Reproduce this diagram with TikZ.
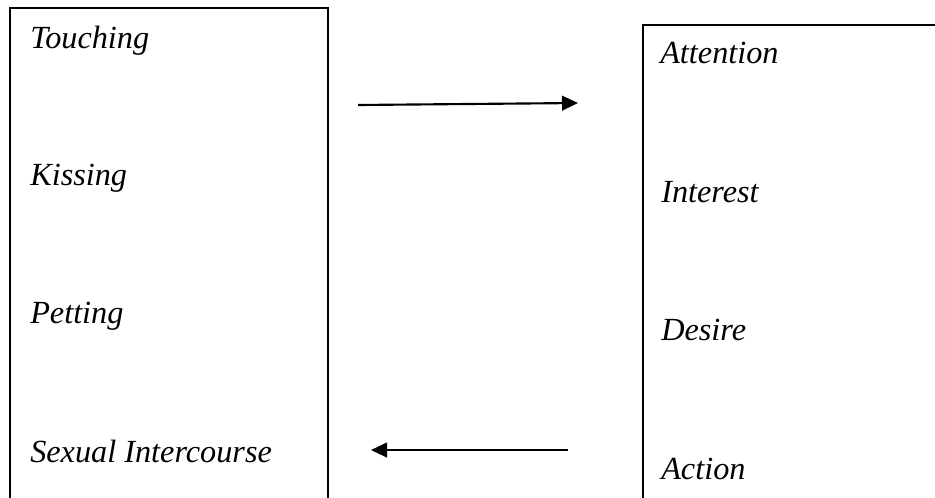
\documentclass[tikz,border=0pt]{standalone}
\usepackage{fontspec}
\setmainfont{Liberation Serif}
\usetikzlibrary{arrows.meta, positioning}
\tikzset{
  stage/.style={inner sep=0pt, anchor=base west, font=\fontsize{24.2}{29}\selectfont\itshape},
  frame/.style={line width=1.5pt, draw=black},
  arrow/.style={-{Triangle[length=12pt, width=11pt]}, line width=1.6pt, draw=black},
}
\begin{document}
\begin{tikzpicture}[x=0.75pt, y=-0.75pt]
  \useasboundingbox (0,0) rectangle (935,497);
  % left box, open at the bottom
  \draw[frame] (10,505) -- (10,8) -- (328,8) -- (328,505);
  % right box, only left and top edges
  \draw[frame] (643,505) -- (643,25) -- (940,25);
  % stages of intimacy
  \node[stage] (touching) at (30,48) {Touching};
  \node[stage] (kissing) at (30,185) {Kissing};
  \node[stage] (petting) at (30,323) {Petting};
  \node[stage] (sex) at (30,462) {Sexual Intercourse};
  % AIDA model
  \node[stage] (attention) at (660,63) {Attention};
  \node[stage] (interest) at (661,202) {Interest};
  \node[stage] (desire) at (661,340) {Desire};
  \node[stage] (action) at (661,479) {Action};
  % arrows
  \coordinate (fwdstart) at (358,105);
  \coordinate (fwdend) at (578,103);
  \coordinate (backstart) at (568,450);
  \coordinate (backend) at (371,450);
  \draw[arrow] (fwdstart) -- (fwdend);
  \draw[arrow] (backstart) -- (backend);
\end{tikzpicture}
\end{document}
